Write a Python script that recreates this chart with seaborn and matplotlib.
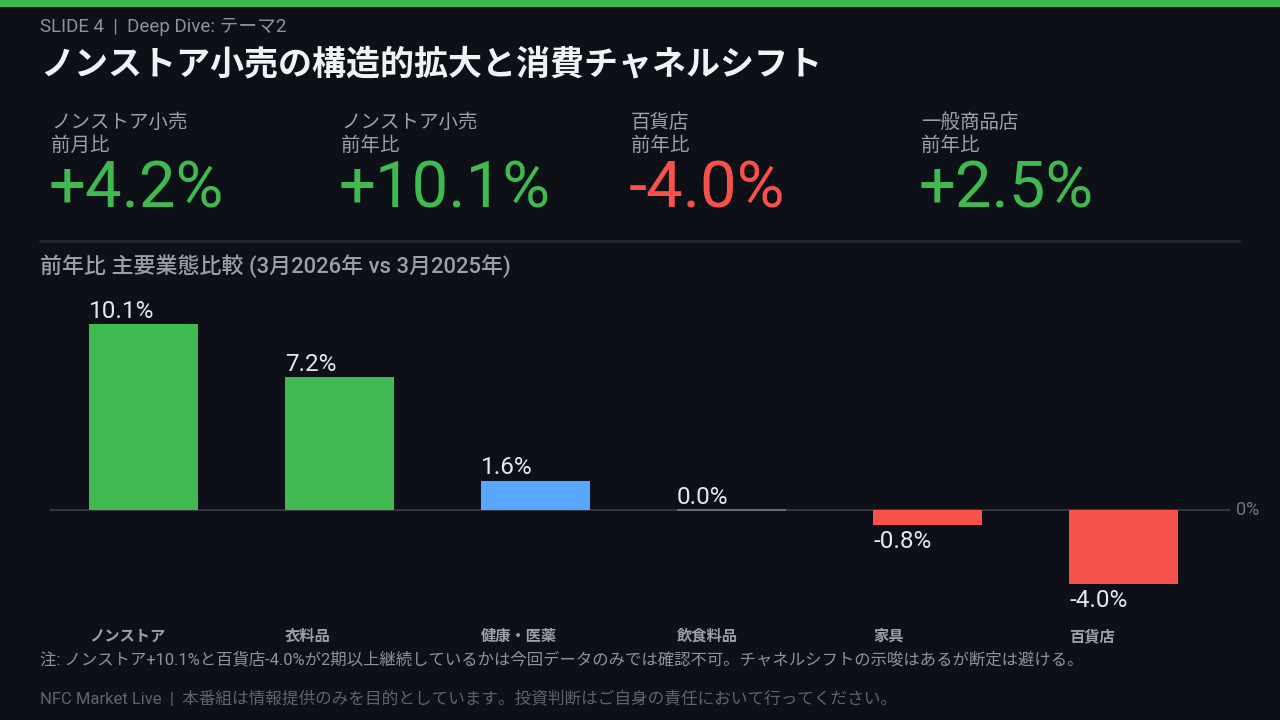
import matplotlib
matplotlib.use("Agg")
import matplotlib.pyplot as plt
import seaborn as sns
import pandas as pd

# data
categories = ["ノンストア", "衣料品", "健康・医薬", "飲食料品", "家具", "百貨店"]
yoy_values = [10.1, 7.2, 1.6, 0.0, -0.8, -4.0]
bar_colors = ["#3fb950", "#3fb950", "#58a6ff", "#8b949e", "#f85149", "#f85149"]

kpi_labels = ["ノンストア小売\n前月比", "ノンストア小売\n前年比", "百貨店\n前年比", "一般商品店\n前年比"]
kpi_values = ["+4.2%", "+10.1%", "-4.0%", "+2.5%"]
kpi_colors = ["#3fb950", "#3fb950", "#f85149", "#3fb950"]

BG = "#0d1017"
W, H = 1280, 720

sns.set_theme(style="dark")
plt.rcParams["font.family"] = ["Roboto", "Noto Sans CJK JP", "DejaVu Sans"]

fig = plt.figure(figsize=(12.8, 7.2), dpi=100, facecolor=BG)


def fx(x):
    return x / W


def fy(y):
    return 1 - y / H


# top accent bar
fig.patches.append(plt.Rectangle((0, fy(6)), 1, 6 / H, transform=fig.transFigure,
                                 color="#3fb950", zorder=5))

fig.text(fx(40), fy(27), "SLIDE 4  |  Deep Dive: テーマ2", color="#8b949e",
         fontsize=13.5, va="center", ha="left")
fig.text(fx(40), fy(64), "ノンストア小売の構造的拡大と消費チャネルシフト", color="#f0f3f6",
         fontsize=24.5, fontweight="bold", va="center", ha="left",
         family=["Noto Sans CJK JP", "DejaVu Sans"])

# KPI cards
for i, (lab, val, col) in enumerate(zip(kpi_labels, kpi_values, kpi_colors)):
    x0 = 50 + i * 290
    fig.text(fx(x0 + 1), fy(112), lab, color="#9ba1a9", fontsize=14, va="top",
             ha="left", linespacing=1.15, family=["Noto Sans CJK JP", "DejaVu Sans"])
    fig.text(fx(x0 - 1), fy(189), val, color=col, fontsize=47, va="center",
             ha="left", fontweight="normal")

# separator
fig.lines.append(plt.Line2D([fx(40), fx(1240)], [fy(241), fy(241)],
                            transform=fig.transFigure, color="#22262e", lw=2))

fig.text(fx(40), fy(266), "前年比 主要業態比較 (3月2026年 vs 3月2025年)", color="#9ba1a9",
         fontsize=15.8, fontweight="medium", va="center", ha="left")

# bar chart
ax_top, ax_bot = 300, 610
ax_left, ax_right = 50, 1230
ax = fig.add_axes([fx(ax_left), fy(ax_bot), (ax_right - ax_left) / W, (ax_bot - ax_top) / H])
ax.set_facecolor(BG)

df = pd.DataFrame({"cat": categories, "val": yoy_values})
bw = 0.556
sns.barplot(data=df, x="cat", y="val", hue="cat", palette=dict(zip(categories, bar_colors)),
            width=bw, legend=False, ax=ax, saturation=1, linewidth=0)
for p, v in zip(ax.patches, yoy_values):
    if v == 0:
        p.set_edgecolor("#6e7681")
        p.set_linewidth(1.2)
        p.set_zorder(3)

px_per_unit = 186 / 10.1
ax.set_ylim(-(ax_bot - 510) / px_per_unit, (510 - ax_top) / px_per_unit)
ax.set_xlim(-0.477, 5.543)
ax.axhline(0, color="#30363d", lw=1.5, zorder=0)

for i, v in enumerate(yoy_values):
    off = -4 if v < 0 else 1
    ax.annotate(f"{v:.1f}%", (i - bw / 2, v), xytext=(0, off), textcoords="offset points",
                ha="left", va="top" if v < 0 else "bottom", color="#e6e8eb", fontsize=17.5)

ax.annotate("0%", xy=(1, 0), xycoords=("axes fraction", "data"), xytext=(4, 0),
            textcoords="offset points", va="center", ha="left", color="#6e7681", fontsize=13)

ax.set_xticks([i - bw / 2 for i in range(len(categories))])
ax.set_xticklabels(categories, ha="left", color="#9ba1a9", fontsize=11, fontweight="bold")
ax.tick_params(axis="x", length=0, pad=14)
ax.set_yticks([])
ax.set_xlabel("")
ax.set_ylabel("")
ax.grid(False)
for s in ax.spines.values():
    s.set_visible(False)

fig.text(fx(40), fy(659),
         "注: ノンストア+10.1%と百貨店-4.0%が2期以上継続しているかは今回データのみでは確認不可。チャネルシフトの示唆はあるが断定は避ける。",
         color="#8b949e", fontsize=11.8, va="center", ha="left")
fig.text(fx(40), fy(699),
         "NFC Market Live  |  本番組は情報提供のみを目的としています。投資判断はご自身の責任において行ってください。",
         color="#5d646d", fontsize=12, va="center", ha="left")

fig.savefig("out.png", dpi=100, facecolor=BG)
